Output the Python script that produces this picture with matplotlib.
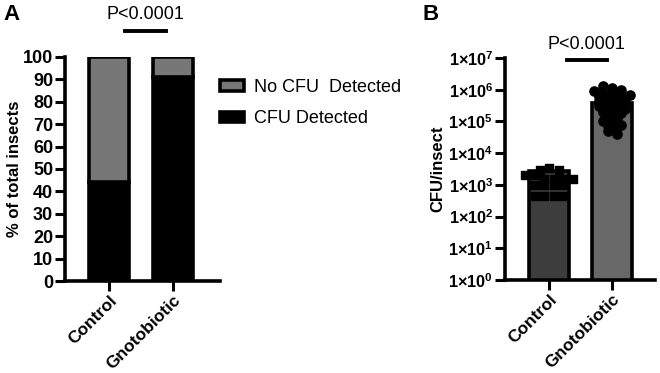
import numpy as np
import matplotlib.pyplot as plt
from matplotlib.patches import Patch

plt.rcParams['font.family'] = ['Liberation Sans', 'DejaVu Sans']
plt.rcParams['mathtext.fontset'] = 'custom'
plt.rcParams['mathtext.bf'] = 'Liberation Sans:bold'
plt.rcParams['mathtext.rm'] = 'Liberation Sans'

# Panel A data (% of total insects)
groups = ['Control', 'Gnotobiotic']
cfu_detected = [44, 91]
no_cfu_detected = [56, 9]
legend_labels = ['No CFU  Detected', 'CFU Detected']

# Panel B data (CFU/insect)
bar_means = [2.8e3, 3.8e5]
control_cfu = [3000, 2000, 2000, 3500, 3000, 1500, 1500, 1500, 1500,
               1000, 1000, 1000, 1000, 450, 450, 450, 450]
gnoto_cfu = [1.3e6, 1.1e6, 1.0e6, 9e5, 8e5, 8e5, 7e5, 7e5, 6e5, 6e5, 5e5,
             5e5, 4.5e5, 4e5, 4e5, 3.5e5, 3e5, 3e5, 2.5e5, 2.5e5, 2e5, 2e5,
             1.8e5, 1.5e5, 1.2e5, 1e5, 9e4, 8e4, 7e4, 6e4, 5e4, 4e4]
log_ticks = list(range(0, 8))
p_text = 'P<0.0001'


def swarm(values, step, tol):
    # group points that sit close in log space and spread each group evenly
    lv = np.log10(values)
    anchors, members = [], []
    for i, v in enumerate(lv):
        for j, a in enumerate(anchors):
            if abs(v - a) <= tol:
                members[j].append(i)
                break
        else:
            anchors.append(v)
            members.append([i])
    offs = np.zeros(len(lv))
    for m in members:
        n = len(m)
        for k, i in enumerate(m):
            offs[i] = (k - (n - 1) / 2) * step
    return offs


fig = plt.figure(figsize=(6.6, 3.73), dpi=100)
lw = 2.6
grey = '#777777'
x = np.arange(len(groups))

# ---------- Panel A ----------
axA = fig.add_axes([65/660, 1-281/373, 155/660, 224/373])
axA.bar(x, cfu_detected, width=0.62, color='black', edgecolor='black', linewidth=lw)
axA.bar(x, no_cfu_detected, width=0.62, bottom=cfu_detected, color=grey,
        edgecolor='black', linewidth=lw)
axA.set_xlim(-0.69, 1.73)
axA.set_ylim(0, 100)
axA.set_yticks(range(0, 101, 10))
axA.set_xticks(x)
axA.set_xticklabels(groups, rotation=45, ha='right', rotation_mode='anchor',
                    fontweight='bold', fontsize=12.5)
for lab in axA.get_yticklabels():
    lab.set_fontweight('bold')
    lab.set_fontsize(13)
axA.set_ylabel('% of total insects', fontweight='bold', fontsize=12, labelpad=1)
axA.plot([0.25, 0.89], [111.6, 111.6], color='black', lw=2.8, clip_on=False)
axA.text(0.56, 119, p_text, ha='center', va='center', fontsize=13)

handles = [Patch(facecolor=grey, edgecolor='black', linewidth=lw),
           Patch(facecolor='black', edgecolor='black', linewidth=lw)]
fig.legend(handles, legend_labels, loc='upper left',
           bbox_to_anchor=(220/660, 1-79/373), frameon=False, fontsize=13,
           handlelength=1.35, handleheight=0.5, labelspacing=0.8,
           handletextpad=0.55, borderpad=0, borderaxespad=0)

# ---------- Panel B ----------
axB = fig.add_axes([505/660, 1-280/373, 150/660, 222/373])
axB.bar(x, bar_means, width=0.64, color=['#3d3d3d', '#686868'],
        edgecolor='black', linewidth=lw)
axB.set_yscale('log')
axB.set_ylim(1, 1e7)
axB.set_xlim(-0.70, 1.68)
axB.scatter(0 + swarm(control_cfu, 0.15, 0.13), control_cfu, marker='s', s=26,
            color='black', zorder=3, clip_on=False)
axB.scatter(1 + swarm(gnoto_cfu, 0.14, 0.12), gnoto_cfu, marker='o', s=44,
            color='black', zorder=3, clip_on=False)
axB.set_yticks([10.0**k for k in log_ticks])
axB.set_yticklabels([r'$\mathbf{1{\times}10^{%d}}$' % k for k in log_ticks], fontsize=11.7)
axB.minorticks_off()
axB.set_xticks(x)
axB.set_xticklabels(groups, rotation=45, ha='right', rotation_mode='anchor',
                    fontweight='bold', fontsize=12.5)
axB.set_ylabel('CFU/insect', fontweight='bold', fontsize=12, labelpad=2)
axB.plot([0.29, 0.92], [8.7e6, 8.7e6], color='black', lw=2.8, clip_on=False)
axB.text(0.6, 2.6e7, p_text, ha='center', va='center', fontsize=13)

for ax in (axA, axB):
    ax.spines['top'].set_visible(False)
    ax.spines['right'].set_visible(False)
    ax.spines['left'].set_linewidth(lw)
    ax.spines['bottom'].set_linewidth(lw)
    ax.tick_params(width=2.2, length=7, direction='out', pad=1.5)

fig.text(3/660, 1-14/373, 'A', fontsize=16, fontweight='bold', va='center')
fig.text(423/660, 1-14/373, 'B', fontsize=16, fontweight='bold', va='center')

fig.savefig('out.png', dpi=100)
